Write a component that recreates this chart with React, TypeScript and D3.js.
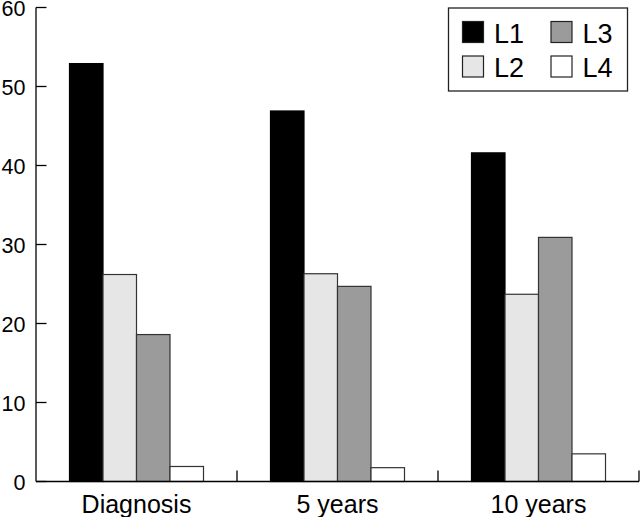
import React from "react";
import * as d3 from "d3";

const categories = ["Diagnosis", "5 years", "10 years"];
const seriesNames = ["L1", "L2", "L3", "L4"];
const L1 = [52.9, 46.9, 41.6];
const L2 = [26.2, 26.3, 23.7];
const L3 = [18.6, 24.7, 30.9];
const L4 = [1.9, 1.75, 3.5];
const yTicks = [0, 10, 20, 30, 40, 50, 60];
const colors = ["#000000", "#e5e6e5", "#9a9b9a", "#ffffff"];

const W = 640;
const H = 517;

export default function App() {
  const values = [L1, L2, L3, L4];
  const x0 = d3.scaleBand<string>().domain(categories).range([36, 639]).padding(0);
  const x1 = d3
    .scaleBand<string>()
    .domain(seriesNames)
    .range([0, x0.bandwidth()])
    .paddingInner(0)
    .paddingOuter(1);
  const y = d3.scaleLinear().domain([0, 60]).range([481.5, 7.5]);
  const font = "'Liberation Sans', Arial, Helvetica, sans-serif";
  const stroke = "#333";

  const legendItems = [
    { name: "L1", color: colors[0], x: 462.5, y: 21.5 },
    { name: "L3", color: colors[2], x: 551, y: 21.5 },
    { name: "L2", color: colors[1], x: 462.5, y: 56 },
    { name: "L4", color: colors[3], x: 551, y: 56 },
  ];

  return (
    <svg
      width={W}
      height={H}
      style={{ position: "absolute", left: 0, top: 0, background: "#fff" }}
      fontFamily={font}
    >
      {/* bars */}
      {categories.map((c, ci) =>
        seriesNames.map((s, si) => {
          const v = values[si][ci];
          const bx = (x0(c) as number) + (x1(s) as number);
          return (
            <rect
              key={c + s}
              x={bx}
              y={y(v)}
              width={x1.bandwidth()}
              height={y(0) - y(v)}
              fill={colors[si]}
              stroke={si === 0 ? "#000" : stroke}
              strokeWidth={1.2}
            />
          );
        })
      )}
      {/* y axis */}
      <line x1={36} x2={36} y1={y(60)} y2={y(0)} stroke="#000" strokeWidth={1.3} />
      {yTicks.map((t) => (
        <g key={t}>
          <line x1={36} x2={46.5} y1={y(t)} y2={y(t)} stroke="#000" strokeWidth={1.3} />
          <text
            x={25.5}
            y={y(t) + 8.8}
            textAnchor="end"
            fontSize={21.5}
            fill="#000"
          >
            {t}
          </text>
        </g>
      ))}
      {/* x axis */}
      <line x1={36} x2={639} y1={y(0)} y2={y(0)} stroke="#000" strokeWidth={1.3} />
      {categories.map((c) => {
        const xe = (x0(c) as number) + x0.bandwidth();
        return (
          <line key={"t" + c} x1={xe} x2={xe} y1={y(0)} y2={y(0) - 11} stroke="#000" strokeWidth={1.3} />
        );
      })}
      {categories.map((c) => (
        <text
          key={"l" + c}
          x={(x0(c) as number) + x0.bandwidth() / 2}
          y={512.5}
          textAnchor="middle"
          fontSize={25}
          fill="#000"
        >
          {c}
        </text>
      ))}
      {/* legend */}
      <rect x={448.5} y={8} width={179} height={83} fill="#fff" stroke="#222" strokeWidth={1.3} />
      {legendItems.map((it) => (
        <g key={it.name}>
          <rect x={it.x} y={it.y} width={21} height={21} fill={it.color} stroke="#222" strokeWidth={1.2} />
          <text x={it.x + 31.5} y={it.y + 21} fontSize={27} fill="#000">
            {it.name}
          </text>
        </g>
      ))}
    </svg>
  );
}
